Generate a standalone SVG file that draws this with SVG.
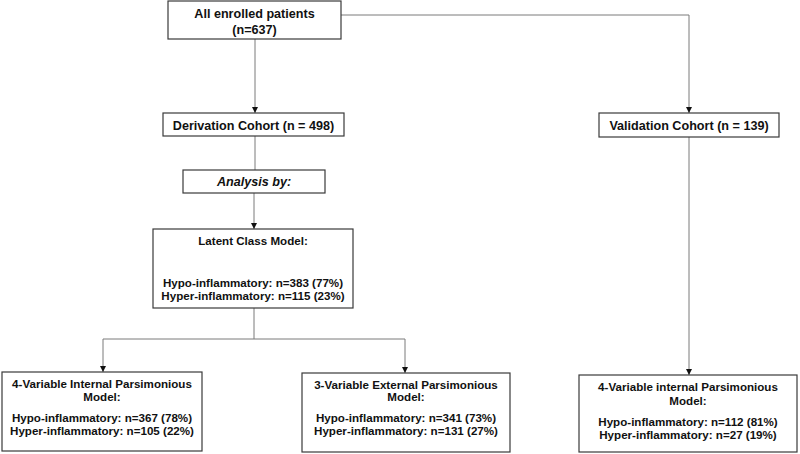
<svg xmlns="http://www.w3.org/2000/svg" width="800" height="454" viewBox="0 0 800 454">
<defs>
<style>
.box{fill:#fff;stroke:#3a3a3a;stroke-width:1.2}
.t{font-family:"Liberation Sans",Arial,sans-serif;font-weight:bold;fill:#111;text-anchor:middle}
.l{font-size:12.6px}
.s{font-size:11.6px}
.c{fill:none;stroke:#7a7a7a;stroke-width:1}
</style>
<marker id="ah" viewBox="0 0 10 10" refX="10" refY="5" markerWidth="6" markerHeight="6" markerUnits="userSpaceOnUse" orient="auto">
<path d="M0,0 L10,5 L0,10 z" fill="#111"/>
</marker>
</defs>
<rect width="800" height="454" fill="#fff"/>
<g id="connectors">
<path class="c" d="M255,39 V113" marker-end="url(#ah)"/>
<path class="c" d="M341,15 H689 V113" marker-end="url(#ah)"/>
<path class="c" d="M255,136 V170"/>
<path class="c" d="M254,193 V229" marker-end="url(#ah)"/>
<path class="c" d="M254,308 V339 M103,339 H405"/>
<path class="c" d="M103,339 V372" marker-end="url(#ah)"/>
<path class="c" d="M405,339 V373" marker-end="url(#ah)"/>
<path class="c" d="M689,137 V375" marker-end="url(#ah)"/>
</g>
<g id="all-enrolled">
<rect class="box" x="168" y="1" width="173" height="38"/>
<text class="t l" x="254.5" y="17.5">All enrolled patients</text>
<text class="t l" x="254.5" y="33.5">(n=637)</text>
</g>
<g id="derivation">
<rect class="box" x="163" y="113" width="181" height="23"/>
<text class="t l" x="253.5" y="129.5">Derivation Cohort (n = 498)</text>
</g>
<g id="validation">
<rect class="box" x="599" y="113" width="180" height="24"/>
<text class="t l" x="689" y="129.5">Validation Cohort (n = 139)</text>
</g>
<g id="analysis">
<rect class="box" x="183" y="170" width="142" height="23"/>
<text class="t l" x="254" y="186" font-style="italic">Analysis by:</text>
</g>
<g id="latent">
<rect class="box" x="153" y="229" width="200" height="79"/>
<text class="t s" x="253" y="245">Latent Class Model:</text>
<text class="t s" x="253" y="287">Hypo-inflammatory: n=383 (77%)</text>
<text class="t s" x="253" y="300">Hyper-inflammatory: n=115 (23%)</text>
</g>
<g id="internal-4var">
<rect class="box" x="2" y="372" width="200" height="79"/>
<text class="t s" x="102" y="388">4-Variable Internal Parsimonious</text>
<text class="t s" x="102" y="401">Model:</text>
<text class="t s" x="102" y="422">Hypo-inflammatory: n=367 (78%)</text>
<text class="t s" x="102" y="435">Hyper-inflammatory: n=105 (22%)</text>
</g>
<g id="external-3var">
<rect class="box" x="302" y="373" width="208" height="79"/>
<text class="t s" x="406" y="389">3-Variable External Parsimonious</text>
<text class="t s" x="406" y="401">Model:</text>
<text class="t s" x="406" y="422">Hypo-inflammatory: n=341 (73%)</text>
<text class="t s" x="406" y="435">Hyper-inflammatory: n=131 (27%)</text>
</g>
<g id="validation-4var">
<rect class="box" x="579" y="375" width="218" height="77"/>
<text class="t s" x="688" y="391">4-Variable internal Parsimonious</text>
<text class="t s" x="688" y="405">Model:</text>
<text class="t s" x="688" y="426">Hypo-inflammatory: n=112 (81%)</text>
<text class="t s" x="688" y="439">Hyper-inflammatory: n=27 (19%)</text>
</g>
</svg>
